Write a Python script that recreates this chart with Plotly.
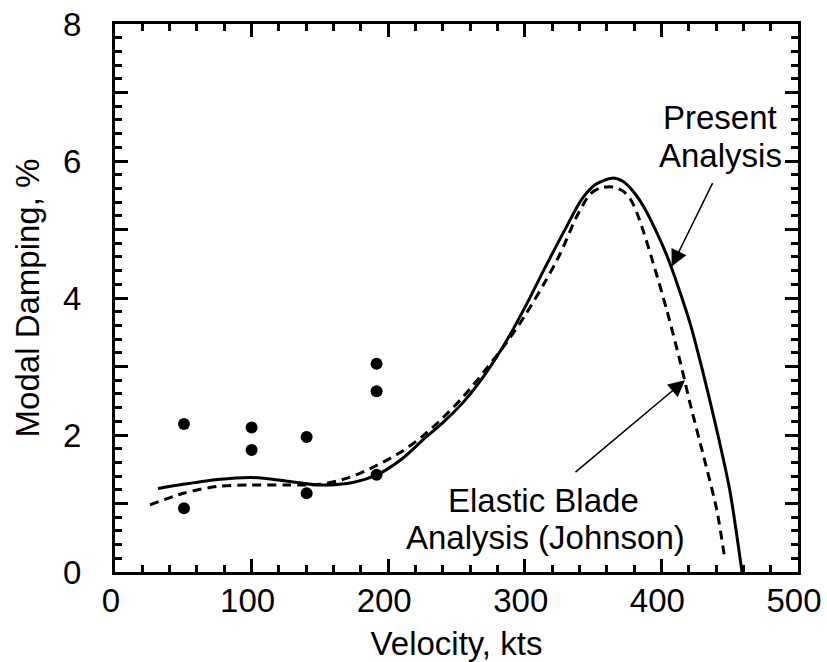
import plotly.graph_objects as go

# Present Analysis (solid)
present_x = [31.5, 50, 75, 100, 125, 150, 175, 192, 210, 225, 240, 255, 270, 285, 300, 315, 330, 342, 352, 364, 372, 380, 388, 396, 404, 412, 421, 430, 440, 450, 459]
present_y = [1.22, 1.28, 1.35, 1.38, 1.33, 1.27, 1.31, 1.42, 1.65, 1.92, 2.18, 2.48, 2.86, 3.32, 3.86, 4.45, 5.02, 5.45, 5.66, 5.75, 5.70, 5.54, 5.30, 4.98, 4.62, 4.18, 3.63, 2.95, 2.12, 1.20, 0.0]

# Elastic Blade Analysis (Johnson) (dashed)
johnson_x = [25.6, 50, 75, 100, 125, 150, 170, 192, 210, 225, 240, 255, 270, 287, 300, 315, 326, 338, 348, 356, 365, 372, 378, 384, 394, 404, 414, 421, 431, 440.5, 446.5]
johnson_y = [0.98, 1.15, 1.25, 1.27, 1.27, 1.28, 1.37, 1.56, 1.76, 1.98, 2.25, 2.56, 2.92, 3.36, 3.74, 4.24, 4.65, 5.19, 5.52, 5.61, 5.62, 5.56, 5.42, 5.14, 4.51, 3.82, 3.05, 2.46, 1.68, 0.91, 0.18]

# Test data (dots)
test_x = [50.5, 50.5, 100, 100, 140.3, 140.3, 191.5, 191.5, 191.5]
test_y = [2.16, 0.93, 2.11, 1.78, 1.97, 1.15, 3.04, 2.64, 1.42]

FONT = "Liberation Sans, Arial, sans-serif"
FS = 33

fig = go.Figure()
fig.add_trace(go.Scatter(x=present_x, y=present_y, mode="lines",
                         line=dict(color="black", width=3, shape="spline", smoothing=0.8),
                         showlegend=False))
fig.add_trace(go.Scatter(x=johnson_x, y=johnson_y, mode="lines",
                         line=dict(color="black", width=3, dash="9px,6px", shape="spline", smoothing=0.8),
                         showlegend=False))
fig.add_trace(go.Scatter(x=test_x, y=test_y, mode="markers",
                         marker=dict(color="black", size=12),
                         showlegend=False))

ann_font = dict(family=FONT, size=FS, color="black")
annotations = [
    dict(x=486, y=6.635, text="Present", xanchor="right", yanchor="middle", showarrow=False, font=ann_font),
    dict(x=489.5, y=6.075, text="Analysis", xanchor="right", yanchor="middle", showarrow=False, font=ann_font),
    dict(x=313.7, y=1.05, text="Elastic Blade", xanchor="center", yanchor="middle", showarrow=False, font=ann_font),
    dict(x=315, y=0.50, text="Analysis (Johnson)", xanchor="center", yanchor="middle", showarrow=False, font=ann_font),
    dict(x=407.5, y=4.46, ax=438, ay=5.70, axref="x", ayref="y", xref="x", yref="y", text="",
         showarrow=True, arrowhead=2, arrowsize=2.2, arrowwidth=1.5, arrowcolor="black"),
    dict(x=417.3, y=2.80, ax=336, ay=1.44, axref="x", ayref="y", xref="x", yref="y", text="",
         showarrow=True, arrowhead=2, arrowsize=2.2, arrowwidth=1.5, arrowcolor="black"),
]

axis_common = dict(
    showline=True, linecolor="black", linewidth=3, mirror="allticks",
    ticks="inside", ticklen=13, tickwidth=3, tickcolor="black",
    showgrid=False, zeroline=False, automargin=False,
    tickfont=dict(family=FONT, size=FS, color="black"),
)

fig.update_layout(
    width=827, height=662,
    margin=dict(l=115, r=29, t=24, b=90),
    paper_bgcolor="white", plot_bgcolor="white",
    font=dict(family=FONT, size=FS, color="black"),
    annotations=annotations,
    xaxis=dict(range=[0, 500], tick0=0, dtick=100,
               minor=dict(dtick=20, ticklen=7, tickwidth=3, ticks="inside", tickcolor="black"),
               title=dict(text="Velocity, kts", font=dict(family=FONT, size=FS), standoff=19),
               ticklabelstandoff=-3, ticklabelshift=-4,
               **axis_common),
    yaxis=dict(range=[0, 8], tick0=0, dtick=1, ticklabelstep=2,
               minor=dict(dtick=0.2, ticklen=7, tickwidth=3, ticks="inside", tickcolor="black"),
               title=dict(text="Modal Damping, %", font=dict(family=FONT, size=FS), standoff=14),
               ticklabelstandoff=24,
               **axis_common),
)

fig.write_html("out.html")
